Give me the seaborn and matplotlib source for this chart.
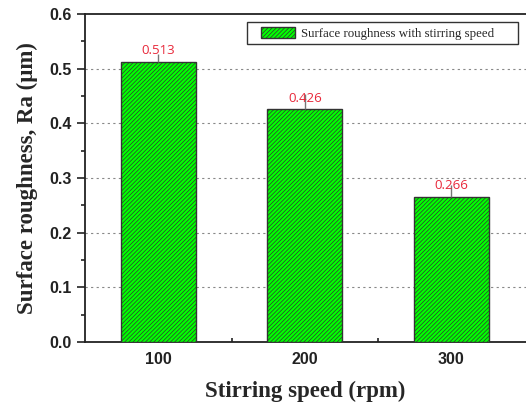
import numpy as np
import matplotlib
matplotlib.use("Agg")
import matplotlib.pyplot as plt
import seaborn as sns
import pandas as pd
from matplotlib.patches import Rectangle
from matplotlib.ticker import MultipleLocator, FixedLocator

# data
speeds = ["100", "200", "300"]
roughness = [0.513, 0.426, 0.266]
err_up = [0.013, 0.028, 0.022]
labels = ["0.513", "0.426", "0.266"]

sns.set_theme(style="white")
plt.rcParams['hatch.color'] = '#1e6a1e'
plt.rcParams['hatch.linewidth'] = 0.5

df = pd.DataFrame({"speed": speeds, "Ra": roughness})

fig = plt.figure(figsize=(5.26, 4.03), dpi=100)
ax = fig.add_axes([85/526, 61/403, 441/526, 328/403])

sns.barplot(data=df, x="speed", y="Ra", order=speeds, width=0.51,
            color="#00ff00", saturation=1, edgecolor="#333333", linewidth=1,
            hatch="////////", label="Surface roughness with stirring speed",
            errorbar=None, ax=ax, zorder=3)

# upper error bars only
xs = np.arange(len(speeds))
ax.errorbar(xs, roughness, yerr=[np.zeros(len(err_up)), err_up], fmt="none",
            ecolor="#777777", elinewidth=1, capsize=0, zorder=4)

for x, y, t in zip(xs, roughness, labels):
    ax.annotate(t, (x, y), xytext=(0, 3), textcoords="offset points",
                ha="center", va="bottom", color="#e8283a", fontsize=9.5,
                family="Open Sans", zorder=5)

ax.set_xlim(-0.5, 2.51)
ax.set_ylim(0, 0.6)
ax.yaxis.set_minor_locator(MultipleLocator(0.05))
ax.xaxis.set_minor_locator(FixedLocator([0.5, 1.5]))
ax.set_yticks(np.arange(0, 0.61, 0.1))
ax.set_yticklabels([f"{v:.1f}" for v in np.arange(0, 0.61, 0.1)])

ax.tick_params(axis="y", which="major", direction="out", length=6, width=1.2,
               left=True, color="#222222")
ax.tick_params(axis="y", which="minor", direction="out", length=3, width=1.2,
               left=True, color="#222222")
ax.tick_params(axis="x", which="major", direction="in", length=5, width=1.2,
               bottom=True, color="#222222", pad=7)
ax.tick_params(axis="x", which="minor", direction="in", length=3, width=1.2,
               bottom=True, color="#222222")
for lab in ax.get_xticklabels() + ax.get_yticklabels():
    lab.set_family("Liberation Sans")
    lab.set_fontweight("bold")
    lab.set_fontsize(11.5)
    lab.set_color("#222222")

for s in ax.spines.values():
    s.set_color("#222222")
    s.set_linewidth(1.3)
# right border is cut off in the original
ax.spines["right"].set_visible(False)

for yv in [0.1, 0.2, 0.3, 0.4, 0.5]:
    ax.axhline(yv, color="#888888", linestyle=(0, (2, 3)), linewidth=0.8, zorder=1)

ax.set_xlabel("Stirring speed (rpm)", family="Liberation Serif",
              fontweight="bold", fontsize=16.5, labelpad=10)
ax.set_ylabel("Surface roughness, Ra (\u03bcm)", family="Liberation Serif",
              fontweight="bold", fontsize=16.5, labelpad=8)

# legend without its own frame, boxed by a plain rectangle
leg = ax.legend(loc="center left", bbox_to_anchor=(0.399, 0.942), frameon=False,
                handlelength=2.65, handleheight=0.95, borderpad=0,
                borderaxespad=0, handletextpad=0.45,
                prop={"family": "Liberation Serif", "size": 9.3})
ax.add_patch(Rectangle((0.367, 0.9085), 0.614, 0.067, transform=ax.transAxes,
                       fill=True, facecolor="white", edgecolor="#333333",
                       linewidth=1, zorder=5))
leg.set_zorder(6)

fig.savefig("out.png", dpi=100)
